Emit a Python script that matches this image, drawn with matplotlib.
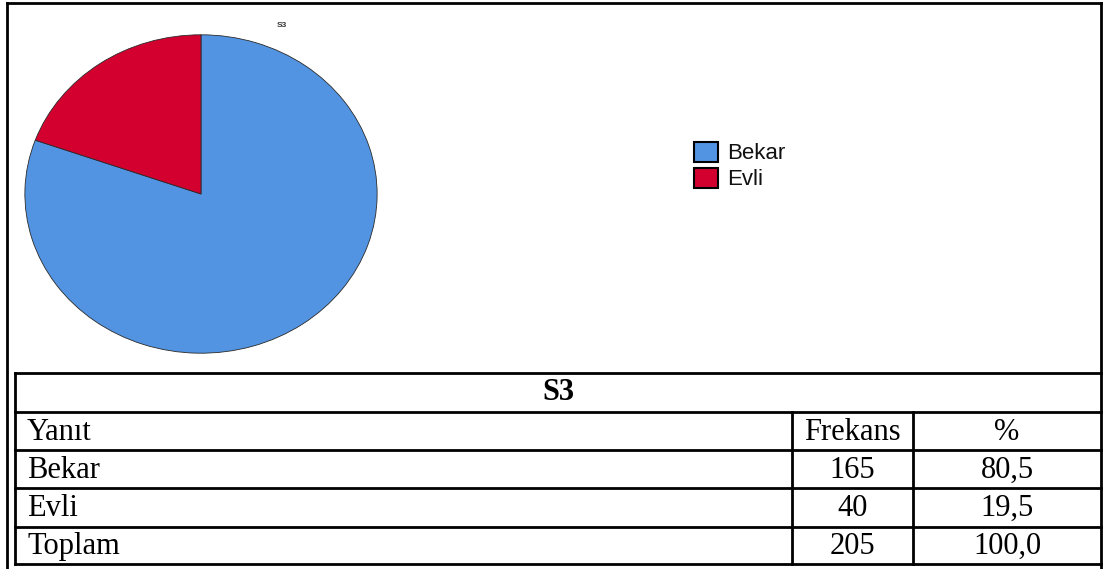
import matplotlib.pyplot as plt
from matplotlib.patches import Rectangle

# marital status counts (S3)
categories = ['Bekar', 'Evli']
counts = [165, 40]
percents = [80.5, 19.5]
total_count = 205
total_percent = 100.0
colors = ['#5294e2', '#d3002f']

W, H = 1103, 569
fig = plt.figure(figsize=(W / 100, H / 100), dpi=100)

# background axes in pixel units, y going down
bg = fig.add_axes([0, 0, 1, 1])
bg.set_xlim(0, W)
bg.set_ylim(H, 0)
bg.axis('off')

def line(x0, y0, x1, y1, lw=2):
    bg.plot([x0, x1], [y0, y1], color='black', lw=lw, solid_capstyle='projecting')

# outer frame
line(7, 3, 1101, 3)
line(7, 3, 7, H)
line(1101, 3, 1101, H)

# pie, stretched into an ellipse
px0, py0, px1, py1 = 24, 34, 378, 354
ax = fig.add_axes([px0 / W, 1 - py1 / H, (px1 - px0) / W, (py1 - py0) / H])
wedges, _ = ax.pie(counts, colors=colors, startangle=90, counterclock=False,
                   wedgeprops=dict(edgecolor='#2a2a2a', linewidth=0.6))
ax.set_aspect('auto')
ax.set_xlim(-1.005, 1.005)
ax.set_ylim(-1.005, 1.005)
ax.axis('off')

bg.text(282, 25, 'S3', fontsize=6, fontweight='bold', color='#333333',
        ha='center', va='center', family='Liberation Sans')

# legend
for i, (name, c) in enumerate(zip(categories, colors)):
    y = 142 + i * 26
    bg.add_patch(Rectangle((694, y), 24, 20, facecolor=c, edgecolor='black', lw=1.5))
    bg.text(727, y + 11, name, fontsize=16, va='center', ha='left',
            family='Liberation Sans', color='#111111')

# frequency table
tx0, tx1 = 15, 1101
c1, c2 = 792, 913
rows = [373, 412, 450, 488, 527, 564]
for y in rows:
    line(tx0, y, tx1, y)
line(tx0, rows[0], tx0, rows[-1])
line(c1, rows[1], c1, rows[-1])
line(c2, rows[1], c2, rows[-1])

serif = dict(family='Liberation Serif', fontsize=22, va='center', color='black')
bg.text((tx0 + tx1) / 2, (rows[0] + rows[1]) / 2, 'S3', ha='center', fontweight='bold', **serif)

table = [('Yanıt', 'Frekans', '%')]
for name, n, p in zip(categories, counts, percents):
    table.append((name, str(n), f'{p:.1f}'.replace('.', ',')))
table.append(('Toplam', str(total_count), f'{total_percent:.1f}'.replace('.', ',')))

for i, (a, b, c) in enumerate(table):
    ym = (rows[i + 1] + rows[i + 2]) / 2 + 1
    bg.text(tx0 + 12, ym, a, ha='left', **serif)
    bg.text((c1 + c2) / 2, ym, b, ha='center', **serif)
    bg.text((c2 + tx1) / 2, ym, c, ha='center', **serif)

fig.savefig('out.png', dpi=100)
